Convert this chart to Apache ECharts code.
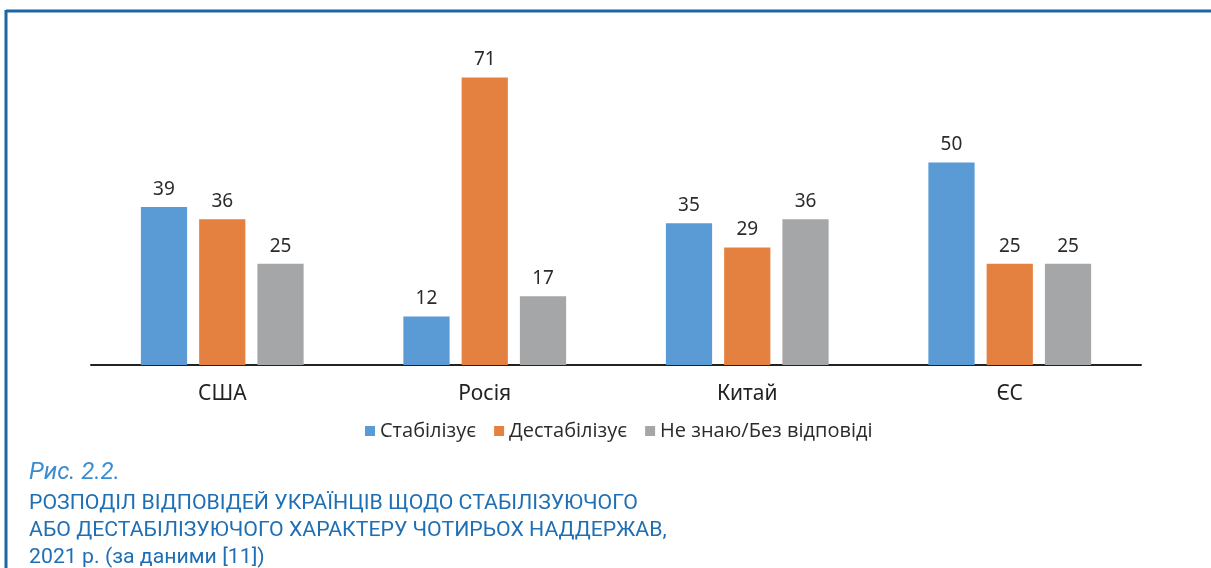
<!DOCTYPE html>
<html>
<head>
<meta charset="utf-8">
<script src="https://cdn.jsdelivr.net/npm/echarts@6/dist/echarts.min.js"></script>
<style>
  html, body { margin: 0; padding: 0; background: #fff; }
  #chart { width: 1211px; height: 568px; }
</style>
</head>
<body>
<div id="chart"></div>
<script>
// categories and answers (%)
const categories = ['США', 'Росія', 'Китай', 'ЄС'];
const stabilizes = [39, 12, 35, 50];
const destabilizes = [36, 71, 29, 25];
const dontKnow = [25, 17, 36, 25];

const seriesNames = ['Стабілізує', 'Дестабілізує', 'Не знаю/Без відповіді'];
const colors = ['#5b9bd5', '#e58140', '#a5a6a8'];

const figLabel = 'Рис. 2.2.';
const captionLines = [
  'РОЗПОДІЛ ВІДПОВІДЕЙ УКРАЇНЦІВ ЩОДО СТАБІЛІЗУЮЧОГО',
  'АБО ДЕСТАБІЛІЗУЮЧОГО ХАРАКТЕРУ ЧОТИРЬОХ НАДДЕРЖАВ,',
  '2021 р. (за даними [11])'
];

const chart = echarts.init(document.getElementById('chart'));

// the caption font is condensed; squeeze Roboto to the same line width
const capFont = '400 21px Roboto';
const ctx = document.createElement('canvas').getContext('2d');
ctx.font = capFont;
const squeeze = 609 / ctx.measureText(captionLines[0]).width;

const barLabel = {
  show: true,
  position: 'top',
  distance: 8,
  color: '#2b2b2b',
  fontSize: 19,
  fontFamily: 'Noto Sans'
};

function makeSeries(name, data, i) {
  return {
    name: name,
    type: 'bar',
    data: data,
    barGap: '26%',
    barCategoryGap: '38%',
    itemStyle: { color: colors[i] },
    label: barLabel
  };
}

const graphic = [
  // frame lines
  { type: 'line', shape: { x1: 6, y1: 11, x2: 1211, y2: 11 }, style: { stroke: '#1b66a4', lineWidth: 3 } },
  { type: 'line', shape: { x1: 6, y1: 10, x2: 6, y2: 568 }, style: { stroke: '#1b66a4', lineWidth: 3 } },
  {
    type: 'text', x: 29, y: 461,
    style: { text: figLabel, fill: '#3a8ccf', fontSize: 24, fontStyle: 'italic', fontWeight: 400, fontFamily: 'Roboto' }
  }
];
captionLines.forEach((t, i) => {
  graphic.push({
    type: 'text', x: 29, y: 493 + i * 27, scaleX: squeeze,
    style: { text: t, fill: '#1f6fb4', fontSize: 21, fontWeight: 400, fontFamily: 'Roboto' }
  });
});

chart.setOption({
  animation: false,
  legend: {
    data: seriesNames,
    left: 360,
    top: 416,
    itemWidth: 10,
    itemHeight: 10,
    itemGap: 18,
    icon: 'rect',
    textStyle: { fontSize: 20, color: '#2b2b2b', fontFamily: 'Open Sans' }
  },
  grid: { left: 91, right: 70, top: 41, bottom: 203 },
  xAxis: {
    type: 'category',
    data: categories,
    axisLine: { lineStyle: { color: '#222', width: 2 } },
    axisTick: { show: false },
    axisLabel: { color: '#222', fontSize: 21, margin: 19, fontFamily: 'Noto Sans' }
  },
  yAxis: {
    type: 'value',
    min: 0,
    max: 80,
    show: false,
    splitLine: { show: false }
  },
  series: [
    makeSeries(seriesNames[0], stabilizes, 0),
    makeSeries(seriesNames[1], destabilizes, 1),
    makeSeries(seriesNames[2], dontKnow, 2)
  ],
  graphic: graphic
});
</script>
</body>
</html>
